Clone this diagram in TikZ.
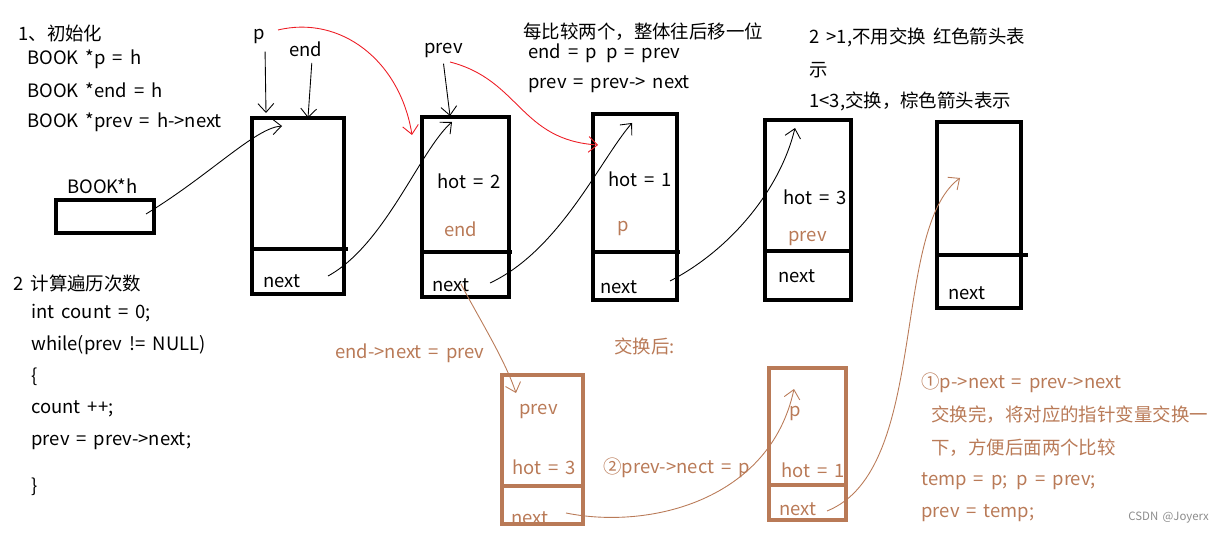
\documentclass[tikz,border=0pt]{standalone}
\usepackage{fontspec}
\setmainfont{Noto Sans CJK SC}[WordSpace=1.7]
\usetikzlibrary{arrows.meta}
\definecolor{paintbrown}{RGB}{185,122,87}
\definecolor{paintred}{RGB}{237,28,36}
\tikzset{
  txt/.style={anchor=west, inner sep=0pt, font=\fontsize{10.5}{12}\selectfont},
  btxt/.style={txt, text=paintbrown},
  cell/.style={line width=2.3pt},
  bcell/.style={line width=2.6pt, draw=paintbrown},
  hand/.style={-{Straight Barb[length=5pt,width=9pt]}, line width=0.5pt},
}
\begin{document}
\begin{tikzpicture}[x=0.02cm, y=-0.02cm]
    % cornice
    \useasboundingbox (0,0) rectangle (1220,533);

    % testi a sinistra
    \node[txt] (tinit) at (18,33) {1、初始化};
    \node[txt] (tp) at (27,59) {BOOK *p = h};
    \node[txt] (tend) at (27,90) {BOOK *end = h};
    \node[txt] (tprev) at (27,122) {BOOK *prev = h->next};
    \node[txt] (th) at (67,186) {BOOK*h};
    \node[txt] (tcount) at (13,283) {2 计算遍历次数};
    \node[txt] (c1) at (31,313) {int count = 0;};
    \node[txt] (c2) at (31,345) {while(prev != NULL)};
    \node[txt] (c3) at (31,377) {\{};
    \node[txt] (c4) at (31,409) {count ++;};
    \node[txt] (c5) at (31,441) {prev = prev->next;};
    \node[txt] (c6) at (31,487) {\}};

    % testi in alto
    \node[txt] (lp) at (253,36) {p};
    \node[txt] (lend) at (289,49) {end};
    \node[txt] (lprev) at (424,50) {prev};
    \node[txt] (m1) at (523,32) {每比较两个，整体往后移一位};
    \node[txt] (m2) at (528,53) {end = p\hspace{0.5em}p = prev};
    \node[txt] (m3) at (528,84) {prev = prev-> next};
    \node[txt] (r1) at (809,37) {2 >1,不用交换 红色箭头表};
    \node[txt] (r2) at (809,70) {示};
    \node[txt] (r3) at (809,101) {1<3,交换，棕色箭头表示};

    % riquadro h
    \draw[cell] (56,200) rectangle (154,233);

    % nodi della lista
    \draw[cell] (252,118) rectangle (344,294); \draw[cell] (252,249) -- (348,249);
    \draw[cell] (422,117) rectangle (509,297); \draw[cell] (422,252) -- (512,252);
    \draw[cell] (593,114) rectangle (677,300); \draw[cell] (593,252) -- (680,252);
    \draw[cell] (765,120) rectangle (851,300); \draw[cell] (765,251) -- (851,251);
    \draw[cell] (937,122) rectangle (1021,308); \draw[cell] (937,255) -- (1028,255);

    \node[txt] (h2) at (437,181) {hot = 2};
    \node[btxt] (e2) at (444,229) {end};
    \node[txt] (h3) at (608,179) {hot = 1};
    \node[btxt] (p3) at (617,228) {p};
    \node[txt] (h4) at (783,197) {hot = 3};
    \node[btxt] (v4) at (788,238) {prev};
    \node[txt] (n1) at (263,281) {next};
    \node[txt] (n2) at (432,285) {next};
    \node[txt] (n3) at (600,287) {next};
    \node[txt] (n4) at (778,276) {next};
    \node[txt] (n5) at (948,293) {next};

    % dopo lo scambio
    \node[btxt] (ta) at (335,353) {end->next = prev};
    \node[btxt] (tb) at (614,346) {交换后:};
    \draw[bcell] (502,375) rectangle (583,524); \draw[bcell] (502,486) -- (583,486);
    \draw[bcell] (769,368) rectangle (846,520); \draw[bcell] (769,485) -- (846,485);
    \node[btxt] (bv) at (519,411) {prev};
    \node[btxt] (bh3) at (512,467) {hot = 3};
    \node[btxt] (bn1) at (511,518) {next};
    \node[btxt] (tc) at (603,468) {②prev->nect = p};
    \node[btxt] (bp) at (789,413) {p};
    \node[btxt] (bh1) at (781,470) {hot = 1};
    \node[btxt] (bn2) at (779,509) {next};
    \node[btxt] (s1) at (921,383) {①p->next = prev->next};
    \node[btxt] (s2) at (931,415) {交换完，将对应的指针变量交换一};
    \node[btxt] (s3) at (931,448) {下，方便后面两个比较};
    \node[btxt] (s4) at (921,481) {temp = p;\hspace{0.5em}p = prev;};
    \node[btxt] (s5) at (921,513) {prev = temp;};
    \node[txt, text=black!45, font=\fontsize{6.5}{8}\selectfont] (wm) at (1128,518) {CSDN @Joyerx};

    % punti dei collegamenti
    \coordinate (hout) at (146,214);
    \coordinate (in1) at (282,126);
    \coordinate (out1) at (328,276);
    \coordinate (in2) at (452,122);
    \coordinate (out2) at (490,283);
    \coordinate (in3) at (632,123);
    \coordinate (out3) at (670,281);
    \coordinate (in4) at (795,128);
    \coordinate (in5) at (960,178);
    \coordinate (bin1) at (516,393);
    \coordinate (bout1) at (566,513);
    \coordinate (bin2) at (794,389);
    \coordinate (bout2) at (827,511);

    % frecce nere
    \draw[hand] (hout) .. controls (210,175) and (255,128) .. (in1);
    \draw[hand] (out1) .. controls (385,245) and (420,150) .. (in2);
    \draw[hand] (out2) .. controls (560,250) and (600,160) .. (in3);
    \draw[hand] (out3) .. controls (730,250) and (780,190) .. (in4);
    \draw[hand] (lp.south) ++(6,8) coordinate (pp) -- (266,113);
    \draw[hand] (lend.south) ++(6,6) coordinate (pe) -- (308,118);
    \draw[hand] (lprev.south) ++(0,6) coordinate (pv) -- (450,116);

    % frecce rosse
    \draw[hand, paintred] (278,30) .. controls (340,15) and (400,60) .. (412,135);
    \draw[hand, paintred] (450,62) .. controls (520,80) and (520,140) .. (598,145);

    % frecce marroni
    \draw[hand, paintbrown] (n2.south) ++(10,-8) coordinate (bs) .. controls (480,320) and (505,360) .. (bin1);
    \draw[hand, paintbrown] (bout1) .. controls (650,530) and (770,500) .. (bin2);
    \draw[hand, paintbrown] (bout2) .. controls (930,470) and (890,230) .. (in5);
\end{tikzpicture}
\end{document}
